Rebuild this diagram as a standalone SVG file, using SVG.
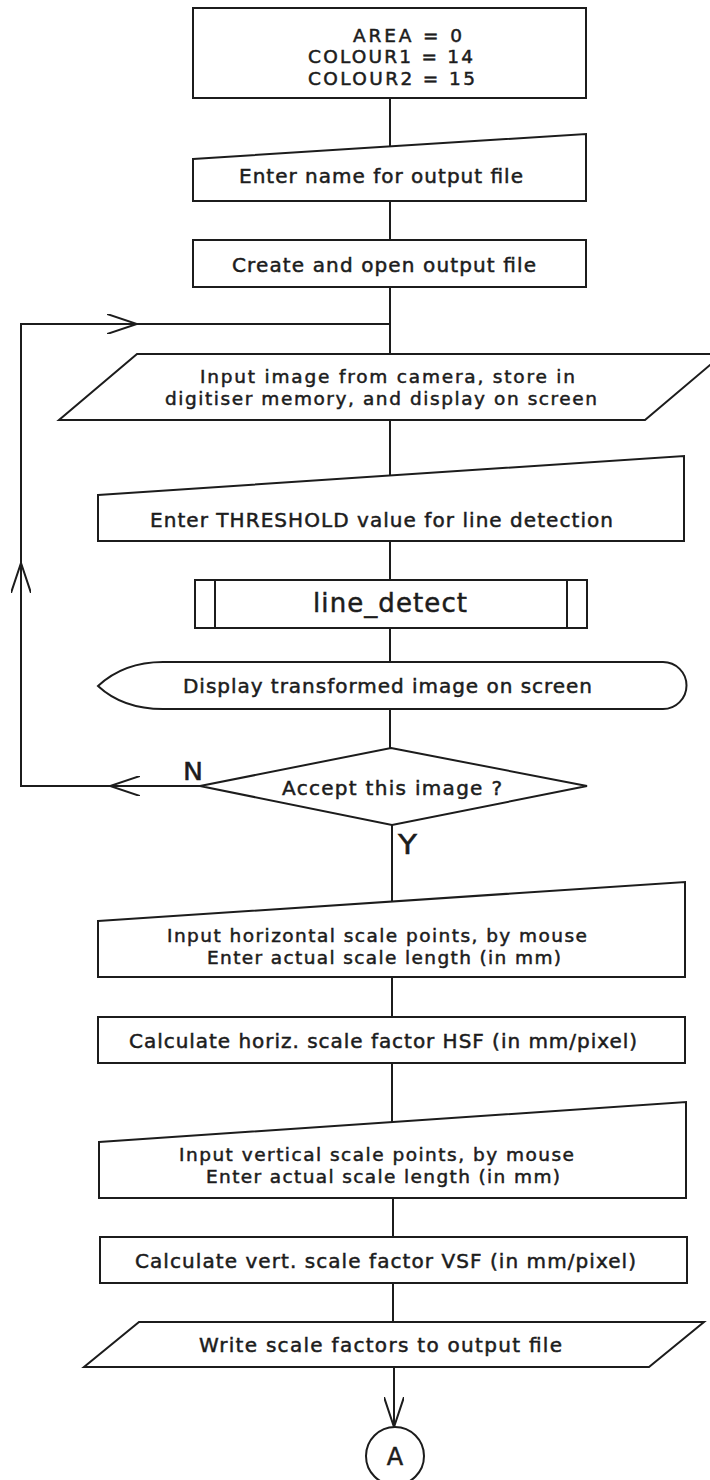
<svg xmlns="http://www.w3.org/2000/svg" width="710" height="1480" viewBox="0 0 710 1480">
  <style>
    .shape { fill: #ffffff; stroke: #1c1c1c; stroke-width: 2; stroke-linejoin: miter; }
    .wire { fill: none; stroke: #1c1c1c; stroke-width: 2; }
    .t { font-family: "DejaVu Sans", "Liberation Sans", sans-serif; font-size: 20px; fill: #1c1c1c; stroke: #1c1c1c; stroke-width: 0.5; }
    .two { font-size: 18.5px; }
    .big { font-size: 26px; }
    .lbl { font-size: 24px; }
  </style>
  <defs>
    <!-- open chevron arrowhead used along the flow lines -->
    <marker id="chev" viewBox="0 0 30 20" refX="30" refY="10" markerWidth="30" markerHeight="20" markerUnits="userSpaceOnUse" orient="auto">
      <path d="M0,0 L30,10 L0,20" fill="none" stroke="#1c1c1c" stroke-width="2"/>
    </marker>
  </defs>
  <rect x="0" y="0" width="710" height="1480" fill="#ffffff"/>

  <!-- flow lines -->
  <g id="connectors">
    <path class="wire" d="M390,98 V147"/>
    <path class="wire" d="M390,201 V240"/>
    <path class="wire" d="M390,287 V354"/>
    <path class="wire" d="M390,420 V476"/>
    <path class="wire" d="M390,541 V580"/>
    <path class="wire" d="M390,628 V662"/>
    <path class="wire" d="M390,709 V748"/>
    <!-- rejection loop back to image input -->
    <path class="wire" d="M200,786 H110" marker-end="url(#chev)"/>
    <path class="wire" d="M110,786 H21 V563" marker-end="url(#chev)"/>
    <path class="wire" d="M21,563 V324 H137" marker-end="url(#chev)"/>
    <path class="wire" d="M137,324 H390"/>
    <!-- accepted branch -->
    <path class="wire" d="M392,825 V902"/>
    <path class="wire" d="M392,977 V1017"/>
    <path class="wire" d="M392,1063 V1122"/>
    <path class="wire" d="M393,1198 V1237"/>
    <path class="wire" d="M393,1283 V1322"/>
    <path class="wire" d="M394,1367 V1427" marker-end="url(#chev)"/>
    <text class="t lbl" x="183" y="780" textLength="20" lengthAdjust="spacingAndGlyphs">N</text>
    <text class="t" style="font-size:27px" x="398" y="854" textLength="19" lengthAdjust="spacingAndGlyphs">Y</text>
  </g>

  <g id="init">
    <rect class="shape" x="193" y="8" width="393" height="90"/>
    <text class="t two" x="353" y="41.5" textLength="109" lengthAdjust="spacing">AREA = 0</text>
    <text class="t two" x="308" y="63" textLength="165" lengthAdjust="spacing">COLOUR1 = 14</text>
    <text class="t two" x="308" y="84.5" textLength="167" lengthAdjust="spacing">COLOUR2 = 15</text>
  </g>

  <g id="enter-name">
    <polygon class="shape" points="193,159 586,134 586,201 193,201"/>
    <text class="t" x="239" y="183" textLength="284" lengthAdjust="spacing">Enter name for output file</text>
  </g>

  <g id="create-file">
    <rect class="shape" x="193" y="240" width="393" height="47"/>
    <text class="t" x="232" y="272" textLength="304" lengthAdjust="spacing">Create and open output file</text>
  </g>

  <g id="input-image">
    <polygon class="shape" points="137,354 723,354 645,420 59,420"/>
    <text class="t two" x="200" y="382.5" textLength="375" lengthAdjust="spacing">Input image from camera, store in</text>
    <text class="t two" x="165" y="404.5" textLength="432" lengthAdjust="spacing">digitiser memory, and display on screen</text>
  </g>

  <g id="enter-threshold">
    <polygon class="shape" points="98,495 684,456 684,541 98,541"/>
    <text class="t" x="150" y="527" textLength="463" lengthAdjust="spacing">Enter THRESHOLD value for line detection</text>
  </g>

  <g id="line-detect">
    <rect class="shape" x="195" y="580" width="392" height="48"/>
    <path class="wire" d="M215,580 V628 M567,580 V628"/>
    <text class="t big" x="313" y="612" textLength="154" lengthAdjust="spacing">line_detect</text>
  </g>

  <g id="display-image">
    <path class="shape" d="M163,662 H663 A23.5,23.5 0 0 1 663,709 H163 C132,709 112,699 98,686 C112,673 132,662 163,662 Z"/>
    <text class="t" x="183" y="693" textLength="409" lengthAdjust="spacing">Display transformed image on screen</text>
  </g>

  <g id="accept">
    <polygon class="shape" points="391,748 587,786 392,825 200,786"/>
    <text class="t" x="282" y="795" textLength="220" lengthAdjust="spacing">Accept this image ?</text>
  </g>

  <g id="horiz-points">
    <polygon class="shape" points="98,921 685,882 685,977 98,977"/>
    <text class="t two" x="167" y="941.5" textLength="420" lengthAdjust="spacing">Input horizontal scale points, by mouse</text>
    <text class="t two" x="207" y="963.5" textLength="354" lengthAdjust="spacing">Enter actual scale length (in mm)</text>
  </g>

  <g id="calc-hsf">
    <rect class="shape" x="98" y="1017" width="587" height="46"/>
    <text class="t" x="129" y="1048" textLength="508" lengthAdjust="spacing">Calculate horiz. scale factor HSF (in mm/pixel)</text>
  </g>

  <g id="vert-points">
    <polygon class="shape" points="99,1142 686,1102 686,1198 99,1198"/>
    <text class="t two" x="179" y="1160.5" textLength="395" lengthAdjust="spacing">Input vertical scale points, by mouse</text>
    <text class="t two" x="206" y="1182.5" textLength="354" lengthAdjust="spacing">Enter actual scale length (in mm)</text>
  </g>

  <g id="calc-vsf">
    <rect class="shape" x="100" y="1237" width="587" height="46"/>
    <text class="t" x="135" y="1268" textLength="501" lengthAdjust="spacing">Calculate vert. scale factor VSF (in mm/pixel)</text>
  </g>

  <g id="write-factors">
    <polygon class="shape" points="139,1322 704,1322 649,1367 84,1367"/>
    <text class="t" x="199" y="1352" textLength="363" lengthAdjust="spacing">Write scale factors to output file</text>
  </g>

  <g id="connector-a">
    <circle class="shape" cx="395" cy="1456" r="29"/>
    <text class="t lbl" x="395" y="1465" text-anchor="middle">A</text>
  </g>
</svg>
